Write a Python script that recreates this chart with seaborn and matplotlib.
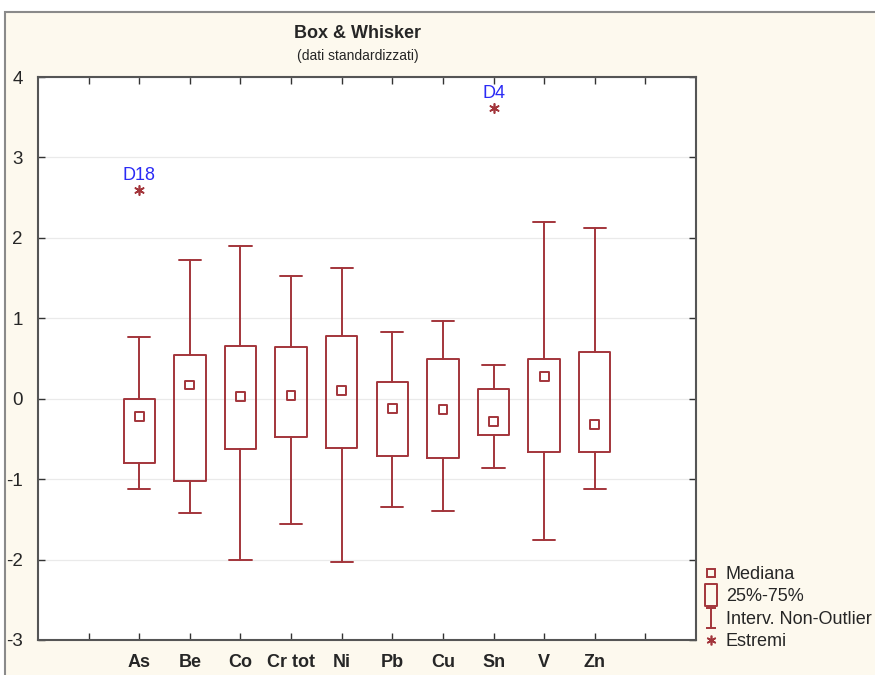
import numpy as np
import pandas as pd
import matplotlib
matplotlib.use("Agg")
import matplotlib.pyplot as plt
from matplotlib.patches import Rectangle
from matplotlib.lines import Line2D
from matplotlib.path import Path
import seaborn as sns

# ---- data ----
categories = ["As", "Be", "Co", "Cr tot", "Ni", "Pb", "Cu", "Sn", "V", "Zn"]
whisker_low = [-1.12, -1.42, -2.00, -1.56, -2.03, -1.35, -1.39, -0.86, -1.76, -1.12]
q1 = [-0.80, -1.02, -0.63, -0.47, -0.61, -0.71, -0.74, -0.45, -0.66, -0.66]
median = [-0.22, 0.17, 0.03, 0.04, 0.10, -0.12, -0.13, -0.28, 0.28, -0.32]
q3 = [0.00, 0.54, 0.65, 0.64, 0.78, 0.21, 0.50, 0.12, 0.50, 0.58]
whisker_high = [0.77, 1.72, 1.90, 1.52, 1.62, 0.83, 0.97, 0.42, 2.20, 2.12]
extreme_cat = ["As", "Sn"]
extreme_val = [2.60, 3.62]
extreme_lab = ["D18", "D4"]
yticks = [-3, -2, -1, 0, 1, 2, 3, 4]

sns.set_style("white")
plt.rcParams["font.family"] = ["Liberation Sans", "DejaVu Sans"]

RED = "#A3353B"
BLUE = "#2B2BF5"
BG = "#FDF9EE"

fig = plt.figure(figsize=(8.75, 6.75), dpi=100)
fig.patch.set_facecolor("white")
fig.patches.append(Rectangle((5 / 875, -0.05), 1.2, 1 - 12 / 675 + 0.05,
                             transform=fig.transFigure, facecolor=BG,
                             edgecolor="#8a8a8a", linewidth=1.5, zorder=-5))

ax = fig.add_axes([38 / 875, 1 - 640 / 675, (696 - 38) / 875, (640 - 77) / 675])
ax.set_zorder(2)
ax.set_facecolor("white")

pos = np.arange(len(categories)) + 2
stats = []
for i, c in enumerate(categories):
    stats.append(dict(label=c, whislo=whisker_low[i], q1=q1[i], med=median[i],
                      q3=q3[i], whishi=whisker_high[i], fliers=[]))
ax.bxp(stats, positions=pos, widths=0.62, showfliers=False, patch_artist=False,
       boxprops=dict(color=RED, linewidth=1.4),
       whiskerprops=dict(color=RED, linewidth=1.4),
       capprops=dict(color=RED, linewidth=1.4),
       medianprops=dict(linewidth=0),
       capwidths=0.44, manage_ticks=False)

df_med = pd.DataFrame({"x": pos, "y": median})
sns.scatterplot(data=df_med, x="x", y="y", marker="s", s=40, facecolor="none",
                edgecolor=RED, linewidth=1.4, ax=ax, zorder=5)

ext_x = [pos[categories.index(c)] for c in extreme_cat]
df_ext = pd.DataFrame({"x": ext_x, "y": extreme_val})
sns.scatterplot(data=df_ext, x="x", y="y", marker=(6, 2, 0), s=45, color=RED,
                linewidth=1.2, ax=ax, zorder=5)
for x, y, t in zip(ext_x, extreme_val, extreme_lab):
    ax.annotate(t, (x, y), xytext=(0, 4), textcoords="offset points",
                ha="center", va="bottom", color=BLUE, fontsize=13)

ax.set_xlim(0, 13)
ax.set_ylim(-3, 4)
ax.set_xticks(pos)
ax.set_xticklabels(categories, fontweight="bold", fontsize=13)
ax.set_xticks([1, 12], minor=True)
ax.set_yticks(yticks)
ax.set_yticklabels([str(v) for v in yticks], fontsize=13.5)
ax.tick_params(axis="x", which="both", direction="in", top=True, bottom=True,
               length=5, width=1, color="#333333", pad=10)
ax.tick_params(axis="y", direction="in", left=True, right=True, length=5,
               width=1, color="#333333", pad=11)
ax.set_xlabel("")
ax.set_ylabel("")
for s in ax.spines.values():
    s.set_color("#555555")
    s.set_linewidth(1.5)
ax.yaxis.grid(True, color="#EAEAEA", linewidth=0.9)
ax.set_axisbelow(True)

fig.text(358 / 875, 1 - 34 / 675, "Box & Whisker", ha="center", va="center",
         fontsize=13, fontweight="bold")
fig.text(358 / 875, 1 - 56 / 675, "(dati standardizzati)", ha="center",
         va="center", fontsize=10)

# legend
ibeam = Path([(0, -1), (0, 1), (-0.45, 1), (0.45, 1), (-0.45, -1), (0.45, -1)],
             [Path.MOVETO, Path.LINETO, Path.MOVETO, Path.LINETO, Path.MOVETO, Path.LINETO])
rect = Path([(-0.55, -1), (0.55, -1), (0.55, 1), (-0.55, 1), (-0.55, -1)],
            [Path.MOVETO, Path.LINETO, Path.LINETO, Path.LINETO, Path.CLOSEPOLY])
handles = [
    Line2D([], [], linestyle="none", marker="s", markersize=6, markerfacecolor="none",
           markeredgecolor=RED, markeredgewidth=1.4),
    Line2D([], [], linestyle="none", marker=rect, markersize=16, markerfacecolor="none",
           markeredgecolor=RED, markeredgewidth=1.4),
    Line2D([], [], linestyle="none", marker=ibeam, markersize=15, markerfacecolor="none",
           markeredgecolor=RED, markeredgewidth=1.4),
    Line2D([], [], linestyle="none", marker=(6, 2, 0), markersize=7, color=RED,
           markeredgewidth=1.2),
]
labels = ["Mediana", "25%-75%", "Interv. Non-Outlier", "Estremi"]
fig.legend(handles, labels, loc="upper left", bbox_to_anchor=(704 / 875, 1 - 566 / 675),
           frameon=False, handlelength=0.8, handletextpad=0.4,
           labelspacing=0.3, borderpad=0, borderaxespad=0,
           prop={"size": 13})

fig.savefig("out.png", dpi=100, facecolor=fig.get_facecolor())
